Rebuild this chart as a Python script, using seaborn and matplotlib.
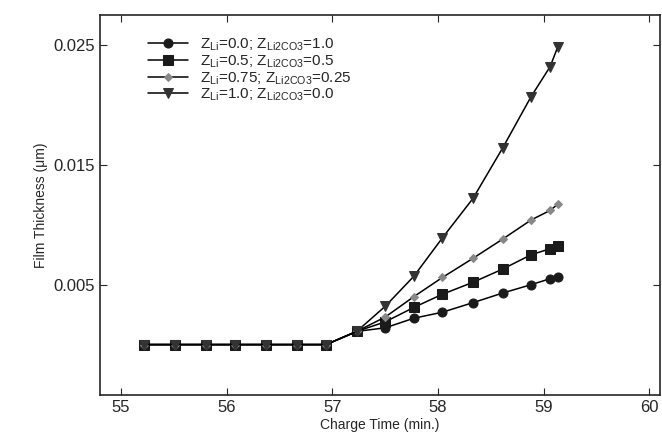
import numpy as np
import pandas as pd
import seaborn as sns
import matplotlib
matplotlib.use("Agg")
import matplotlib.pyplot as plt

# charge time (min.)
flat_t = [55.22, 55.51, 55.80, 56.08, 56.37, 56.66, 56.94]
rise_t = [57.23, 57.50, 57.77, 58.04, 58.33, 58.61, 58.88, 59.06, 59.13]

# film thickness (um) after the flat part
z00 = [0.0011, 0.0014, 0.0022, 0.0027, 0.0035, 0.0043, 0.0050, 0.0055, 0.0056]
z05 = [0.0011, 0.0019, 0.0031, 0.0042, 0.0052, 0.0063, 0.0075, 0.0080, 0.0082]
z075 = [0.0011, 0.0023, 0.0040, 0.0056, 0.0072, 0.0088, 0.0104, 0.0112, 0.0117]
z10 = [0.0011, 0.0032, 0.0057, 0.0089, 0.0122, 0.0164, 0.0207, 0.0232, 0.0248]

labels = [r"Z$_{\mathregular{Li}}$=0.0; Z$_{\mathregular{Li2CO3}}$=1.0",
          r"Z$_{\mathregular{Li}}$=0.5; Z$_{\mathregular{Li2CO3}}$=0.5",
          r"Z$_{\mathregular{Li}}$=0.75; Z$_{\mathregular{Li2CO3}}$=0.25",
          r"Z$_{\mathregular{Li}}$=1.0; Z$_{\mathregular{Li2CO3}}$=0.0"]

sns.set_style("ticks")
plt.rcParams['font.family'] = ['Liberation Sans', 'DejaVu Sans']
plt.rcParams['mathtext.fontset'] = 'custom'
plt.rcParams['mathtext.rm'] = 'Liberation Sans'

fig = plt.figure(figsize=(6.62, 4.33), dpi=100)
ax = fig.add_axes([0.151, 0.088, 0.846, 0.877])

styles = [("o", "#1a1a1a", 6.5), ("s", "#1a1a1a", 6.5), ("D", "#888888", 4.5), ("v", "#333333", 7.5)]
for vals, lab, (m, c, ms) in zip([z00, z05, z075, z10], labels, styles):
    df = pd.DataFrame({"t": flat_t + rise_t, "h": [0.0] * len(flat_t) + vals})
    sns.lineplot(data=df, x="t", y="h", ax=ax, color="black", lw=1.1, marker=m,
                 markerfacecolor=c, markeredgecolor=c, markersize=ms, label=lab)

ax.set_xlim(54.8, 60.1)
ax.set_ylim(-0.0042, 0.0275)
ax.set_xticks([55, 56, 57, 58, 59, 60])
ax.set_yticks([0.005, 0.015, 0.025])
ax.set_yticklabels(["0.005", "0.015", "0.025"])
ax.tick_params(labelsize=12, direction="in", length=5, top=True, right=True)
ax.set_xlabel("Charge Time (min.)", fontsize=10, labelpad=2)
ax.set_ylabel("Film Thickness (\u03bcm)", fontsize=10)
for s in ax.spines.values():
    s.set_linewidth(1.2)
ax.legend(loc="upper left", bbox_to_anchor=(0.075, 0.96), frameon=False, fontsize=11,
          handlelength=2.6, labelspacing=0.0, borderaxespad=0)
fig.savefig("out.png")
